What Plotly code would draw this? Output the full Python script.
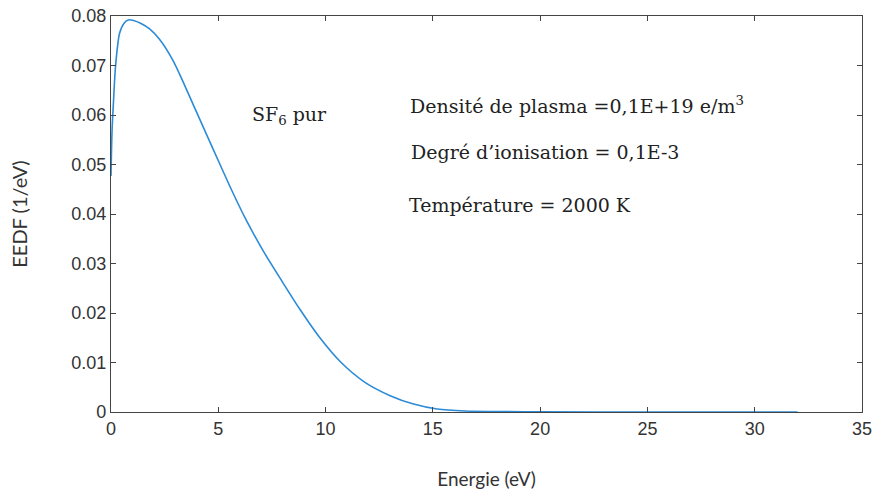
import plotly.graph_objects as go

energy = [0, 0.05, 0.12, 0.21, 0.4, 0.6, 0.8, 1.05, 1.4, 1.8, 2.26, 2.88, 3.35, 3.82,
          4.44, 5.06, 5.68, 6.31, 7.1, 8.0, 8.81, 9.7, 10.68, 11.8, 13.01, 14.1,
          15.2, 16.5, 18, 20, 25, 32]
eedf = [0.0477, 0.057, 0.063, 0.0698, 0.0765, 0.0785, 0.0792, 0.0791, 0.0785, 0.0774,
        0.0753, 0.0711, 0.0668, 0.0622, 0.0562, 0.0502, 0.0443, 0.0387, 0.0325, 0.0262,
        0.0207, 0.0152, 0.0102, 0.0061, 0.0033, 0.0016, 0.0006, 0.0002, 0.0001,
        0.00003, 0.0, 0.0]

x_ticks = [0, 5, 10, 15, 20, 25, 30, 35]
y_ticks = [0, 0.01, 0.02, 0.03, 0.04, 0.05, 0.06, 0.07, 0.08]
y_labels = ["0", "0.01", "0.02", "0.03", "0.04", "0.05", "0.06", "0.07", "0.08"]

fig = go.Figure()
fig.add_trace(go.Scatter(x=energy, y=eedf, mode="lines",
                         line=dict(color="#2c8bd6", width=1.6, shape="spline", smoothing=0.8),
                         showlegend=False))

axis_common = dict(showline=True, linecolor="#444", linewidth=1.2, mirror="ticks",
                   ticks="inside", ticklen=5, tickcolor="#444", showgrid=False,
                   zeroline=False, automargin=False,
                   tickfont=dict(family="Liberation Sans", size=18, color="#333"))

fig.update_xaxes(range=[0, 35], tickvals=x_ticks, ticktext=[str(v) for v in x_ticks],
                 title=dict(text="Energie (eV)", font=dict(family="Lato", size=19, color="#333"),
                            standoff=34),
                 **axis_common)
fig.update_yaxes(range=[0, 0.08], tickvals=y_ticks, ticktext=y_labels,
                 title=dict(text="EEDF (1/eV)", font=dict(family="Lato", size=20, color="#333"),
                            standoff=38),
                 **axis_common)

serif = dict(family="DejaVu Serif", size=19, color="#222")
ann = [
    (6.46, 0.0600, "SF<sub>6</sub> pur"),
    (13.85, 0.0621, "Densité de plasma =0,1E+19 e/m<sup>3</sup>"),
    (13.9, 0.0525, "Degré d’ionisation = 0,1E-3"),
    (13.78, 0.0418, "Température = 2000 K"),
]
for x, y, t in ann:
    fig.add_annotation(x=x, y=y, text=t, showarrow=False, xanchor="left", yanchor="middle",
                       font=serif)

fig.update_layout(width=877, height=495, margin=dict(l=111, r=15, t=16, b=83),
                  plot_bgcolor="white", paper_bgcolor="white")
fig.write_html("out.html")
